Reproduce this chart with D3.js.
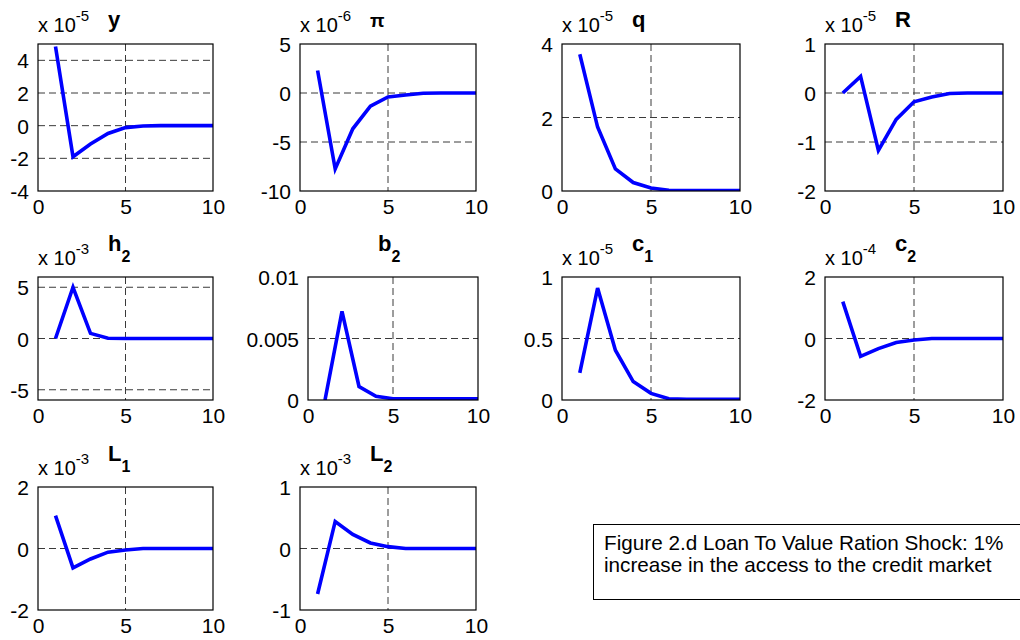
<!DOCTYPE html>
<html><head><meta charset="utf-8">
<script src="https://cdn.jsdelivr.net/npm/d3@7"></script>
<style>
body{margin:0;background:#fff}
svg{display:block;font-family:"Liberation Sans",Arial,Helvetica,sans-serif}
</style>
</head><body>
<svg id="chart" width="1020" height="640"></svg>
<script>
// ---------- data (values in the units shown on each axis) ----------
const periods = [1, 2, 3, 4, 5, 6, 7, 8, 9, 10];
const xTickValues = [0, 5, 10];

const yValues  = [4.85, -1.9, -1.12, -0.48, -0.12, -0.02, 0, 0, 0, 0];          // x 10^-5
const piValues = [2.3, -7.75, -3.65, -1.35, -0.4, -0.2, -0.03, 0, 0, 0];        // x 10^-6
const qValues  = [3.72, 1.74, 0.6, 0.23, 0.08, 0.02, 0.01, 0.01, 0.01, 0.01];   // x 10^-5
const RValues  = [0, 0.34, -1.17, -0.54, -0.18, -0.08, -0.01, 0, 0, 0];         // x 10^-5
const h2Values = [0, 5.0, 0.5, 0.03, 0, 0, 0, 0, 0, 0];                         // x 10^-3
const b2Values = [0, 0.0072, 0.0011, 0.0003, 0.0001, 0.0001, 0.0001, 0.0001, 0.0001, 0.0001];
const c1Values = [0.22, 0.91, 0.405, 0.15, 0.054, 0.01, 0.005, 0.005, 0.005, 0.005]; // x 10^-5
const c2Values = [1.2, -0.58, -0.33, -0.13, -0.05, 0, 0, 0, 0, 0];              // x 10^-4
const L1Values = [1.07, -0.63, -0.34, -0.12, -0.05, 0, 0, 0, 0, 0];             // x 10^-3
const L2Values = [-0.74, 0.44, 0.23, 0.09, 0.03, 0, 0, 0, 0, 0];                // x 10^-3

const titles    = ["y", "π", "q", "R", "h", "b", "c", "c", "L", "L"];
const subs      = ["", "", "", "", "2", "2", "1", "2", "1", "2"];
const exponents = ["-5", "-6", "-5", "-5", "-3", "", "-5", "-4", "-3", "-3"];
const yDomains  = [[-4, 5], [-10, 5], [0, 4], [-2, 1], [-6, 6], [0, 0.01], [0, 1], [-2, 2], [-2, 2], [-1, 1]];
const yTicks    = [[-4, -2, 0, 2, 4], [-10, -5, 0, 5], [0, 2, 4], [-2, -1, 0, 1], [-5, 0, 5],
                   [0, 0.005, 0.01], [0, 0.5, 1], [-2, 0, 2], [-2, 0, 2], [-1, 0, 1]];
const yTickLabels = [["-4","-2","0","2","4"], ["-10","-5","0","5"], ["0","2","4"], ["-2","-1","0","1"],
                   ["-5","0","5"], ["0","0.005","0.01"], ["0","0.5","1"], ["-2","0","2"], ["-2","0","2"], ["-1","0","1"]];
const series = [yValues, piValues, qValues, RValues, h2Values, b2Values, c1Values, c2Values, L1Values, L2Values];

const captionLines = ["Figure 2.d Loan To Value Ration Shock: 1%", "increase in the access to the credit market"];

// ---------- layout ----------
const boxes = [
  {l: 38, r: 213, t: 44, b: 191}, {l: 300, r: 476, t: 44, b: 191},
  {l: 562, r: 740, t: 44, b: 191}, {l: 825, r: 1003, t: 44, b: 191},
  {l: 38, r: 213, t: 277, b: 400}, {l: 308, r: 478, t: 277, b: 400},
  {l: 562, r: 740, t: 277, b: 400}, {l: 825, r: 1003, t: 277, b: 400},
  {l: 38, r: 213, t: 487, b: 610}, {l: 300, r: 476, t: 487, b: 610}
];

const svg = d3.select("#chart");
const fontSize = 21;

series.forEach((vals, i) => {
  const bx = boxes[i];
  const x = d3.scaleLinear().domain([0, 10]).range([bx.l, bx.r]);
  const y = d3.scaleLinear().domain(yDomains[i]).range([bx.b, bx.t]);
  const g = svg.append("g");

  // grid
  const gridColor = "#3a3a3a";
  yTicks[i].forEach(v => {
    const yy = y(v);
    if (Math.abs(yy - bx.t) < 1 || Math.abs(yy - bx.b) < 1) return;
    g.append("line").attr("x1", bx.l).attr("x2", bx.r).attr("y1", yy).attr("y2", yy)
      .attr("stroke", gridColor).attr("stroke-width", 1).attr("stroke-dasharray", "7,4");
  });
  xTickValues.forEach(v => {
    const xx = x(v);
    if (Math.abs(xx - bx.l) < 1 || Math.abs(xx - bx.r) < 1) return;
    g.append("line").attr("x1", xx).attr("x2", xx).attr("y1", bx.t).attr("y2", bx.b)
      .attr("stroke", gridColor).attr("stroke-width", 1).attr("stroke-dasharray", "7,4");
  });

  // axes with d3 axis generators
  const xa = g.append("g").attr("transform", `translate(0,${bx.b})`)
    .call(d3.axisBottom(x).tickValues(xTickValues).tickSize(0).tickPadding(8).tickFormat(d3.format("d")));
  const ya = g.append("g").attr("transform", `translate(${bx.l},0)`)
    .call(d3.axisLeft(y).tickValues(yTicks[i]).tickSize(0).tickPadding(9)
      .tickFormat((d, k) => yTickLabels[i][k]));
  [xa, ya].forEach(a => {
    a.select(".domain").remove();
    a.selectAll("text").attr("font-size", fontSize).attr("fill", "#000")
      .attr("font-family", '"Liberation Sans",Arial,sans-serif');
  });
  ya.selectAll("text").attr("dy", "0.36em");
  xa.selectAll("text").attr("dy", "0.71em");

  // clip + line
  const clipId = "clip" + i;
  svg.append("clipPath").attr("id", clipId).append("rect")
    .attr("x", bx.l).attr("y", bx.t - 2).attr("width", bx.r - bx.l).attr("height", bx.b - bx.t + 2);
  const line = d3.line().x((d, k) => x(periods[k])).y(d => y(d));
  g.append("path").datum(vals).attr("d", line).attr("fill", "none")
    .attr("stroke", "#0000ff").attr("stroke-width", 3.6).attr("stroke-linejoin", "miter")
    .attr("clip-path", `url(#${clipId})`);

  // frame
  g.append("rect").attr("x", bx.l).attr("y", bx.t).attr("width", bx.r - bx.l).attr("height", bx.b - bx.t)
    .attr("fill", "none").attr("stroke", "#000").attr("stroke-width", 1.2);

  // exponent label
  if (exponents[i]) {
    const t = g.append("text").attr("x", bx.l).attr("y", bx.t - 12.5).attr("font-size", 20);
    t.append("tspan").text("x 10");
    t.append("tspan").attr("dy", -11).attr("font-size", 15).text(exponents[i]);
  }

  // title
  const hasSub = subs[i] !== "";
  const tt = g.append("text").attr("x", bx.l + 70).attr("y", hasSub ? bx.t - 26 : bx.t - 17)
    .attr("font-size", titles[i] === "π" ? 19 : 22).attr("font-weight", "bold");
  tt.append("tspan").text(titles[i]);
  if (hasSub) tt.append("tspan").attr("dy", 11).attr("dx", 0).attr("font-size", 16).text(subs[i]);
});

// caption box
const cap = svg.append("g");
cap.append("rect").attr("x", 593.5).attr("y", 524.5).attr("width", 440).attr("height", 75)
  .attr("fill", "#fff").attr("stroke", "#000").attr("stroke-width", 1);
captionLines.forEach((s, k) => {
  cap.append("text").attr("x", 604).attr("y", 549.5 + k * 22).attr("font-size", 20.7).attr("fill", "#000").text(s);
});
</script>
</body></html>
